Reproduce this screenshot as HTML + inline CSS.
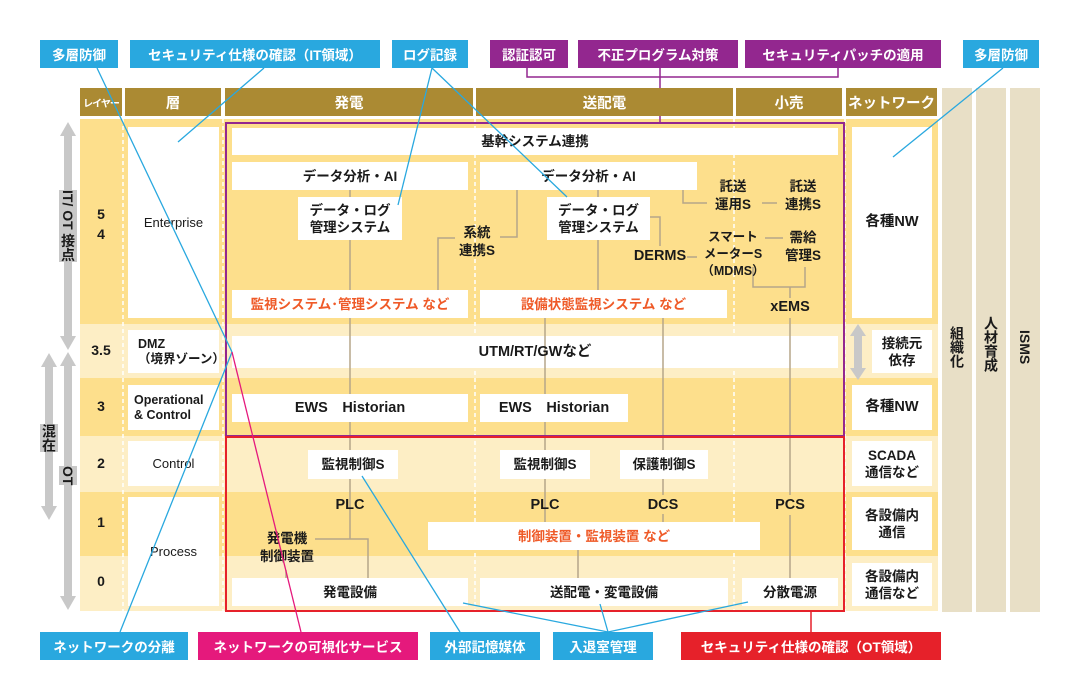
<!DOCTYPE html>
<html><head><meta charset="utf-8"><style>
*{margin:0;padding:0;box-sizing:border-box}
body{width:1080px;height:700px;background:#fff;position:relative;overflow:hidden;font-family:"Liberation Sans","Noto Sans CJK JP",sans-serif;color:#1a1a1a}
.a{position:absolute}
.b{position:absolute;background:#fff;display:flex;align-items:center;justify-content:center;text-align:center;font-size:13.5px;line-height:17px;font-weight:bold}
.t{position:absolute;text-align:center;font-size:13.5px;line-height:17px;font-weight:bold;white-space:nowrap}
.n{font-weight:normal}
.o{color:#ef5a28}
.h{position:absolute;top:88px;height:28px;background:#ab8a33;color:#fff;font-size:14.5px;display:flex;align-items:center;justify-content:center;font-weight:bold}
.l{position:absolute;height:28px;color:#fff;font-size:13.5px;display:flex;align-items:center;justify-content:center;font-weight:bold;white-space:nowrap}
.bl{background:#29a8df}.pu{background:#93278f}.pk{background:#e5197c}.rd{background:#e6212a}
.v{position:absolute;writing-mode:vertical-rl;font-size:14px;font-weight:bold}
</style></head><body>
<svg class="a" style="left:0;top:0" width="1080" height="700">
<rect x="80" y="119" width="858" height="205" fill="#fddf8c"/>
<rect x="80" y="324" width="858" height="54" fill="#fdeec5"/>
<rect x="80" y="378" width="858" height="58" fill="#fddf8c"/>
<rect x="80" y="436" width="858" height="56" fill="#fdeec5"/>
<rect x="80" y="492" width="858" height="64" fill="#fddf8c"/>
<rect x="80" y="556" width="858" height="55" fill="#fdeec5"/>
<rect x="232" y="336" width="606" height="32" fill="#fff"/>
<rect x="942" y="88" width="30" height="524" fill="#e8dfc6"/>
<rect x="976" y="88" width="30" height="524" fill="#e8dfc6"/>
<rect x="1010" y="88" width="30" height="524" fill="#e8dfc6"/>
<g stroke="#fff" stroke-width="1.5" stroke-dasharray="4,3">
<line x1="123" y1="119" x2="123" y2="611"/><line x1="223" y1="119" x2="223" y2="611"/>
<line x1="475" y1="119" x2="475" y2="611"/><line x1="734" y1="119" x2="734" y2="611"/>
<line x1="845" y1="119" x2="845" y2="611"/>
</g>
<g fill="#c8c8c8">
<rect x="64" y="134" width="8" height="206"/><polygon points="68,122 60,136 76,136"/><polygon points="68,350 60,336 76,336"/>
<rect x="64" y="364" width="8" height="236"/><polygon points="68,352 60,366 76,366"/><polygon points="68,610 60,596 76,596"/>
<rect x="45" y="364" width="8" height="145"/><polygon points="49,353 41,367 57,367"/><polygon points="49,520 41,506 57,506"/>
<rect x="854" y="334" width="8" height="36"/><polygon points="858,324 850,336 866,336"/><polygon points="858,380 850,368 866,368"/>
</g>
<g stroke="#b5a58a" stroke-width="1.5" fill="none">
<line x1="350" y1="190" x2="350" y2="539"/>
<polyline points="315,539 368,539 368,578"/>
<line x1="286" y1="570" x2="286" y2="578"/>
<polyline points="438,290 438,238 455,238"/>
<polyline points="517,190 517,237 500,237"/>
<line x1="598" y1="190" x2="598" y2="290"/>
<polyline points="650,217 660,217 660,246"/>
<line x1="545" y1="318" x2="545" y2="522"/>
<line x1="663" y1="318" x2="663" y2="456"/>
<line x1="663" y1="476" x2="663" y2="495"/>
<line x1="663" y1="514" x2="663" y2="522"/>
<line x1="578" y1="550" x2="578" y2="578"/>
<polyline points="683,190 683,203 707,203"/>
<line x1="762" y1="203" x2="777" y2="203"/>
<line x1="765" y1="238" x2="783" y2="238"/>
<line x1="687" y1="257" x2="697" y2="257"/>
<polyline points="753,267 753,287 805,287 805,267"/>
<line x1="790" y1="287" x2="790" y2="298"/>
<line x1="790" y1="318" x2="790" y2="495"/>
<line x1="790" y1="515" x2="790" y2="578"/>
</g>
<rect x="226" y="123" width="618" height="313" fill="none" stroke="#93278f" stroke-width="2"/>
<rect x="226" y="437" width="618" height="174" fill="none" stroke="#e6212a" stroke-width="2"/>
<polyline points="527,67 527,77 838,77 838,67" fill="none" stroke="#93278f" stroke-width="1.5"/>
<line x1="660" y1="67" x2="660" y2="123" stroke="#93278f" stroke-width="1.5"/>
<line x1="811" y1="611" x2="811" y2="632" stroke="#e6212a" stroke-width="1.5"/>
</svg>

<div class="h" style="left:80px;width:42px;font-size:10px;letter-spacing:-1px">レイヤー</div>
<div class="h" style="left:125px;width:96px">層</div>
<div class="h" style="left:225px;width:248px">発電</div>
<div class="h" style="left:476px;width:257px">送配電</div>
<div class="h" style="left:736px;width:106px">小売</div>
<div class="h" style="left:846px;width:91px">ネットワーク</div>

<div class="v" style="left:59px;top:190px;background:#c8c8c8;width:18px;line-height:18px">IT/ OT 接点</div>
<div class="v" style="left:40px;top:424px;background:#c8c8c8;width:18px;line-height:18px">混在</div>
<div class="v" style="left:59px;top:466px;background:#c8c8c8;width:18px;line-height:18px">OT</div>

<div class="t" style="left:80px;width:42px;top:204px;font-size:14px;line-height:20px">5<br>4</div>
<div class="t" style="left:80px;width:42px;top:342px;font-size:14px">3.5</div>
<div class="t" style="left:80px;width:42px;top:398px;font-size:14px">3</div>
<div class="t" style="left:80px;width:42px;top:455px;font-size:14px">2</div>
<div class="t" style="left:80px;width:42px;top:514px;font-size:14px">1</div>
<div class="t" style="left:80px;width:42px;top:573px;font-size:14px">0</div>

<div class="b n" style="left:128px;top:127px;width:91px;height:191px;font-size:13px">Enterprise</div>
<div class="b" style="left:128px;top:330px;width:91px;height:43px;font-size:12.5px;line-height:15px;justify-content:flex-start;text-align:left;padding-left:10px">DMZ<br>（境界ゾーン）</div>
<div class="b" style="left:128px;top:385px;width:91px;height:45px;font-size:12.5px;line-height:15px;justify-content:flex-start;text-align:left;padding-left:6px">Operational<br>&amp; Control</div>
<div class="b n" style="left:128px;top:441px;width:91px;height:45px;font-size:13px">Control</div>
<div class="b n" style="left:128px;top:497px;width:91px;height:109px;font-size:13px">Process</div>

<div class="b" style="left:232px;top:128px;width:606px;height:27px">基幹システム連携</div>
<div class="b" style="left:232px;top:162px;width:236px;height:28px">データ分析・AI</div>
<div class="b" style="left:480px;top:162px;width:217px;height:28px">データ分析・AI</div>
<div class="b" style="left:298px;top:197px;width:104px;height:43px">データ・ログ<br>管理システム</div>
<div class="b" style="left:547px;top:197px;width:103px;height:43px">データ・ログ<br>管理システム</div>
<div class="t" style="left:447px;top:224px;width:60px;line-height:18px">系統<br>連携S</div>
<div class="t" style="left:627px;top:248px;width:66px;font-size:14.5px">DERMS</div>
<div class="t" style="left:703px;top:178px;width:60px;line-height:18px">託送<br>運用S</div>
<div class="t" style="left:773px;top:178px;width:60px;line-height:18px">託送<br>連携S</div>
<div class="t" style="left:698px;top:229px;width:70px;font-size:12.5px;line-height:17px">スマート<br>メーターS<br>（MDMS）</div>
<div class="t" style="left:773px;top:229px;width:60px;line-height:18px">需給<br>管理S</div>
<div class="t" style="left:760px;top:299px;width:60px;font-size:14.5px">xEMS</div>
<div class="b o" style="left:232px;top:290px;width:236px;height:28px">監視システム･管理システム など</div>
<div class="b o" style="left:480px;top:290px;width:247px;height:28px">設備状態監視システム など</div>
<div class="t" style="left:232px;top:344px;width:606px;font-size:14.5px">UTM/RT/GWなど</div>
<div class="b" style="left:232px;top:394px;width:236px;height:28px;font-size:14.5px">EWS　Historian</div>
<div class="b" style="left:480px;top:394px;width:148px;height:28px;font-size:14.5px">EWS　Historian</div>
<div class="b" style="left:308px;top:450px;width:90px;height:29px">監視制御S</div>
<div class="b" style="left:500px;top:450px;width:90px;height:29px">監視制御S</div>
<div class="b" style="left:620px;top:450px;width:88px;height:29px">保護制御S</div>
<div class="t" style="left:320px;top:497px;width:60px;font-size:14.5px">PLC</div>
<div class="t" style="left:515px;top:497px;width:60px;font-size:14.5px">PLC</div>
<div class="t" style="left:633px;top:497px;width:60px;font-size:14.5px">DCS</div>
<div class="t" style="left:760px;top:497px;width:60px;font-size:14.5px">PCS</div>
<div class="t" style="left:252px;top:530px;width:70px;line-height:18px">発電機<br>制御装置</div>
<div class="b o" style="left:428px;top:522px;width:332px;height:28px">制御装置・監視装置 など</div>
<div class="b" style="left:232px;top:578px;width:236px;height:28px">発電設備</div>
<div class="b" style="left:480px;top:578px;width:248px;height:28px">送配電・変電設備</div>
<div class="b" style="left:742px;top:578px;width:96px;height:28px">分散電源</div>

<div class="b" style="left:852px;top:127px;width:80px;height:191px;font-size:14.5px">各種NW</div>
<div class="b" style="left:872px;top:330px;width:60px;height:43px">接続元<br>依存</div>
<div class="b" style="left:852px;top:385px;width:80px;height:45px;font-size:14.5px">各種NW</div>
<div class="b" style="left:852px;top:441px;width:80px;height:45px">SCADA<br>通信など</div>
<div class="b" style="left:852px;top:497px;width:80px;height:53px">各設備内<br>通信</div>
<div class="b" style="left:852px;top:563px;width:80px;height:43px">各設備内<br>通信など</div>

<div class="v" style="left:948px;top:326px;line-height:18px">組織化</div>
<div class="v" style="left:982px;top:316px;line-height:18px">人材育成</div>
<div class="v" style="left:1016px;top:330px;line-height:18px">ISMS</div>

<div class="l bl" style="left:40px;top:40px;width:78px">多層防御</div>
<div class="l bl" style="left:130px;top:40px;width:250px">セキュリティ仕様の確認（IT領域）</div>
<div class="l bl" style="left:392px;top:40px;width:76px">ログ記録</div>
<div class="l pu" style="left:490px;top:40px;width:78px">認証認可</div>
<div class="l pu" style="left:578px;top:40px;width:160px">不正プログラム対策</div>
<div class="l pu" style="left:745px;top:40px;width:196px">セキュリティパッチの適用</div>
<div class="l bl" style="left:963px;top:40px;width:76px">多層防御</div>

<div class="l bl" style="left:40px;top:632px;width:148px">ネットワークの分離</div>
<div class="l pk" style="left:198px;top:632px;width:220px">ネットワークの可視化サービス</div>
<div class="l bl" style="left:430px;top:632px;width:110px">外部記憶媒体</div>
<div class="l bl" style="left:553px;top:632px;width:100px">入退室管理</div>
<div class="l rd" style="left:681px;top:632px;width:260px">セキュリティ仕様の確認（OT領域）</div>

<svg class="a" style="left:0;top:0" width="1080" height="700">
<g stroke="#29a8df" stroke-width="1.3" fill="none">
<line x1="97" y1="68" x2="232" y2="352"/>
<line x1="120" y1="632" x2="232" y2="352"/>
<line x1="264" y1="68" x2="178" y2="142"/>
<line x1="432" y1="68" x2="398" y2="205"/>
<line x1="432" y1="68" x2="567" y2="197"/>
<line x1="1003" y1="68" x2="893" y2="157"/>
<line x1="460" y1="632" x2="362" y2="476"/>
<line x1="608" y1="632" x2="463" y2="603"/>
<line x1="608" y1="632" x2="600" y2="604"/>
<line x1="608" y1="632" x2="748" y2="602"/>
</g>
<line x1="232" y1="352" x2="301" y2="632" stroke="#e5197c" stroke-width="1.3"/>
</svg>
</body></html>
